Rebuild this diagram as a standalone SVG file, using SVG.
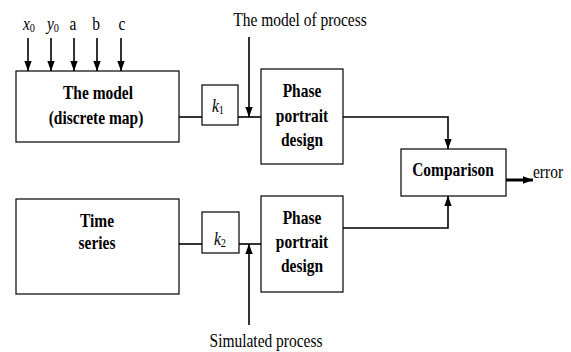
<svg xmlns="http://www.w3.org/2000/svg" width="571" height="352" viewBox="0 0 571 352">
  <style>
    .box { fill: #ffffff; stroke: #000000; stroke-width: 1.2; }
    .wire { fill: none; stroke: #000000; stroke-width: 1.6; }
    .thick { fill: none; stroke: #000000; stroke-width: 3; }
    text { font-family: "Liberation Serif", "Times New Roman", serif; font-size: 18px; fill: #000000; }
    .b { font-weight: bold; }
    .i { font-style: italic; }
    .sub { font-size: 12px; font-style: normal; }
  </style>
  <defs>
    <marker id="arrow" markerUnits="userSpaceOnUse" markerWidth="10" markerHeight="8" refX="10" refY="4" orient="auto">
      <path d="M0,0.3 L10,4 L0,7.7 z" fill="#000000"/>
    </marker>
  </defs>

  <!-- blocks -->
  <g id="model">
    <rect class="box" x="16" y="71" width="163" height="71"/>
    <text class="b" text-anchor="middle" transform="translate(98,99) scale(0.86,1)">The model</text>
    <text class="b" text-anchor="middle" transform="translate(96,124) scale(0.86,1)">(discrete map)</text>
  </g>

  <g id="k1">
    <rect class="box" x="202" y="85" width="36" height="40"/>
    <text class="i" transform="translate(212,112) scale(0.86,1)">k<tspan class="sub" dy="1.5">1</tspan></text>
  </g>

  <g id="phase1">
    <rect class="box" x="261" y="69" width="82" height="95"/>
    <text class="b" text-anchor="middle" transform="translate(302,97) scale(0.86,1)">Phase</text>
    <text class="b" text-anchor="middle" transform="translate(302,122) scale(0.86,1)">portrait</text>
    <text class="b" text-anchor="middle" transform="translate(302,146) scale(0.86,1)">design</text>
  </g>

  <g id="timeseries">
    <rect class="box" x="16" y="199" width="163" height="95"/>
    <text class="b" text-anchor="middle" transform="translate(97,227) scale(0.86,1)">Time</text>
    <text class="b" text-anchor="middle" transform="translate(97,249) scale(0.86,1)">series</text>
  </g>

  <g id="k2">
    <rect class="box" x="202" y="212" width="37" height="41"/>
    <text class="i" transform="translate(214,245) scale(0.86,1)">k<tspan class="sub" dy="1.5">2</tspan></text>
  </g>

  <g id="phase2">
    <rect class="box" x="261" y="196" width="82" height="96"/>
    <text class="b" text-anchor="middle" transform="translate(302,224) scale(0.86,1)">Phase</text>
    <text class="b" text-anchor="middle" transform="translate(302,248) scale(0.86,1)">portrait</text>
    <text class="b" text-anchor="middle" transform="translate(302,272) scale(0.86,1)">design</text>
  </g>

  <g id="comparison">
    <rect class="box" x="401" y="149" width="105" height="47"/>
    <text class="b" text-anchor="middle" transform="translate(453,176) scale(0.86,1)">Comparison</text>
  </g>

  <!-- free labels -->
  <g id="labels">
    <text class="i" text-anchor="middle" transform="translate(29,30) scale(0.86,1)">x<tspan class="sub" dy="2">0</tspan></text>
    <text class="i" text-anchor="middle" transform="translate(53,30) scale(0.86,1)">y<tspan class="sub" dy="2">0</tspan></text>
    <text text-anchor="middle" transform="translate(73,30) scale(0.86,1)">a</text>
    <text text-anchor="middle" transform="translate(96,30) scale(0.86,1)">b</text>
    <text text-anchor="middle" transform="translate(122,30) scale(0.86,1)">c</text>
    <text text-anchor="middle" transform="translate(300,26) scale(0.86,1)">The model of process</text>
    <text text-anchor="middle" transform="translate(266,347) scale(0.86,1)">Simulated process</text>
    <text transform="translate(533,178) scale(0.86,1)">error</text>
  </g>

  <!-- connectors -->
  <g id="connectors">
    <line class="wire" x1="28" y1="38" x2="28" y2="71" marker-end="url(#arrow)"/>
    <line class="wire" x1="51" y1="38" x2="51" y2="71" marker-end="url(#arrow)"/>
    <line class="wire" x1="74" y1="38" x2="74" y2="71" marker-end="url(#arrow)"/>
    <line class="wire" x1="97" y1="38" x2="97" y2="71" marker-end="url(#arrow)"/>
    <line class="wire" x1="121" y1="38" x2="121" y2="71" marker-end="url(#arrow)"/>

    <line class="wire" x1="179" y1="117" x2="202" y2="117"/>
    <line class="wire" x1="238" y1="117" x2="261" y2="117"/>
    <line class="wire" x1="249" y1="37" x2="249" y2="117" marker-end="url(#arrow)"/>
    <polyline class="wire" points="343,117 448,117 448,149" marker-end="url(#arrow)"/>

    <line class="wire" x1="179" y1="244" x2="202" y2="244"/>
    <line class="wire" x1="239" y1="244" x2="261" y2="244"/>
    <line class="wire" x1="249" y1="325" x2="249" y2="244" marker-end="url(#arrow)"/>
    <polyline class="wire" points="343,228 448,228 448,196" marker-end="url(#arrow)"/>

    <line class="thick" x1="506" y1="180" x2="533" y2="180" marker-end="url(#arrow)"/>
  </g>
</svg>
